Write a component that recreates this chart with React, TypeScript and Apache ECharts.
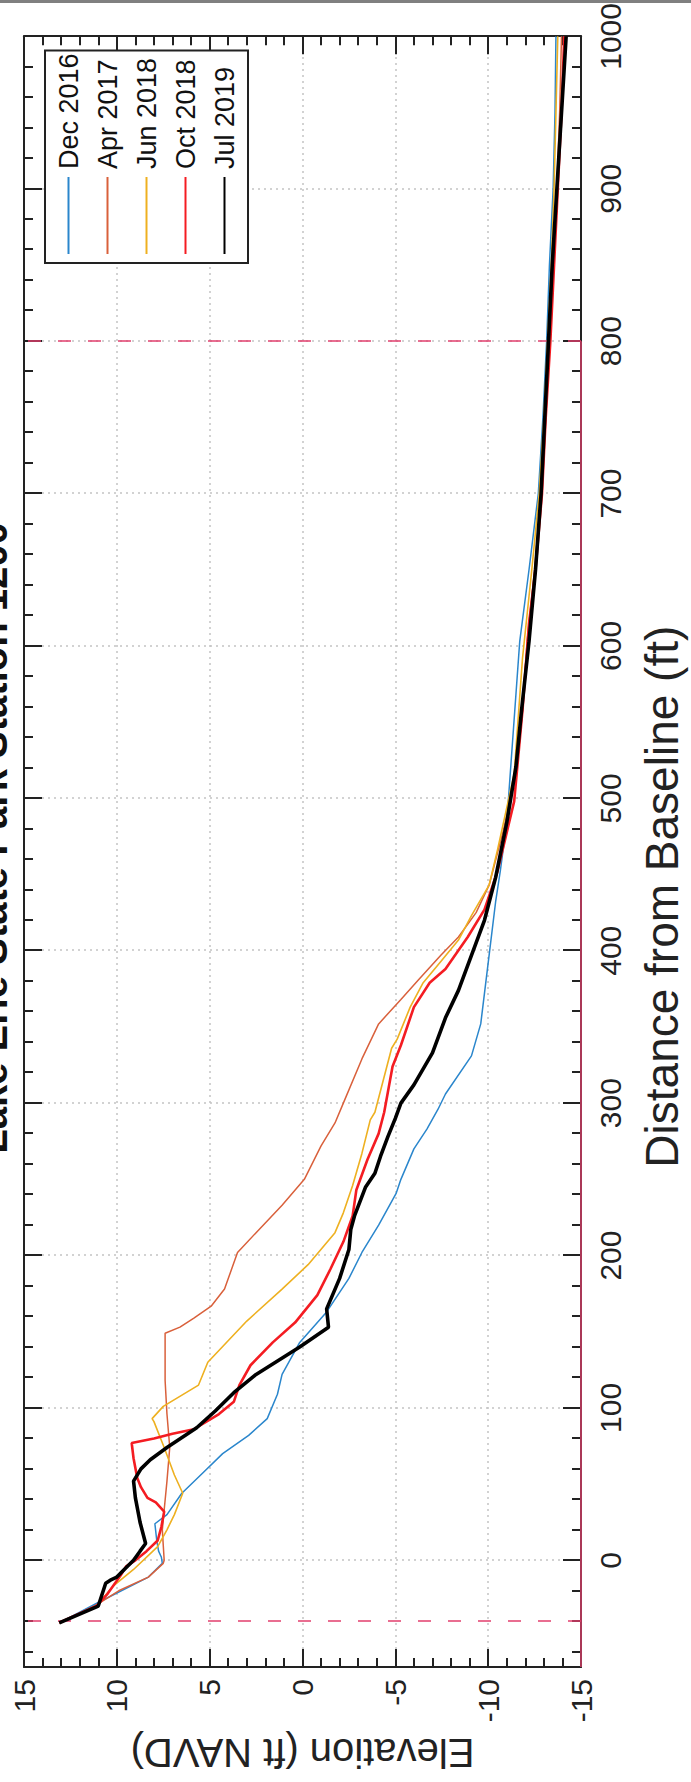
import React, { useEffect, useRef } from "react";
import * as echarts from "echarts";

// ---- Data (distance from baseline ft, elevation ft NAVD) ----
const SERIES_NAMES = ["Dec 2016", "Apr 2017", "Jun 2018", "Oct 2018", "Jul 2019"];

const DEC_2016: [number, number][] = [
  [-41, 13.1], [-27, 10.9], [-11, 8.3], [-2, 7.55], [2, 7.6], [6, 7.75], [13, 7.85], [24, 7.95],
  [30, 7.3], [44, 6.5], [57, 5.4], [70, 4.3], [82, 2.9], [93, 1.9], [109, 1.35], [122, 1.1],
  [143, 0.15], [163, -1.3], [185, -2.5], [202, -3.2], [220, -4.1], [241, -5.05], [250, -5.3],
  [270, -6.0], [283, -6.7], [296, -7.3], [306, -7.7], [331, -9.1], [352, -9.6], [397, -10.05],
  [432, -10.4], [452, -10.65], [484, -11.0], [569, -11.5], [603, -11.7], [650, -12.2],
  [700, -12.7], [750, -12.95], [800, -13.15], [850, -13.3], [900, -13.5], [950, -13.6], [1000, -13.65],
];

const APR_2017: [number, number][] = [
  [-41, 13.1], [-30, 11.2], [-20, 9.9], [-11, 8.3], [-2, 7.5], [0, 7.45], [10, 7.5], [20, 7.55],
  [33, 7.45], [52, 7.3], [74, 7.15], [96, 7.3], [118, 7.4], [149, 7.4], [153, 6.6], [159, 5.85],
  [167, 4.9], [178, 4.2], [202, 3.5], [215, 2.5], [233, 1.1], [250, -0.1], [272, -1.0],
  [287, -1.75], [300, -2.2], [329, -3.2], [352, -4.1], [368, -5.3], [381, -6.25], [397, -7.45],
  [409, -8.4], [425, -9.35], [443, -10.05], [478, -10.8], [516, -11.5], [558, -11.85],
  [603, -12.1], [650, -12.5], [700, -12.85], [750, -13.1], [800, -13.3], [850, -13.5],
  [900, -13.7], [950, -13.85], [1000, -13.95],
];

const JUN_2018: [number, number][] = [
  [-41, 13.1], [-30, 11.1], [-17, 10.2], [-6, 9.1], [9, 7.8], [20, 7.3], [30, 6.9], [44, 6.45],
  [56, 6.9], [74, 7.45], [91, 8.0], [93, 8.1], [101, 7.5], [115, 5.6], [130, 5.1], [157, 3.0],
  [178, 1.1], [194, -0.3], [215, -1.75], [228, -2.2], [246, -2.7], [267, -3.2], [289, -3.65],
  [294, -3.9], [336, -4.8], [342, -5.1], [363, -5.8], [379, -6.5], [393, -7.45], [407, -8.4],
  [423, -9.1], [443, -10.05], [466, -10.5], [516, -11.4], [592, -11.85], [650, -12.35],
  [700, -12.75], [750, -13.0], [800, -13.2], [850, -13.4], [900, -13.55], [950, -13.65], [1000, -13.75],
];

const OCT_2018: [number, number][] = [
  [-41, 13.1], [-30, 11.1], [-22, 10.5], [-10, 9.8], [-4, 9.5], [0, 9.0], [6, 8.4], [13, 7.8],
  [22, 7.6], [32, 7.45], [38, 7.9], [41, 8.35], [48, 8.7], [54, 8.9], [67, 9.1], [77, 9.2],
  [80, 8.0], [83, 7.0], [86, 5.85], [96, 4.5], [104, 3.7], [115, 3.4], [128, 2.8], [143, 1.6],
  [156, 0.4], [174, -0.8], [191, -1.5], [209, -2.2], [226, -2.7], [243, -2.9], [263, -3.5],
  [280, -4.1], [294, -4.4], [324, -4.85], [338, -5.3], [363, -6.0], [379, -6.85], [388, -7.7],
  [409, -8.9], [427, -9.8], [452, -10.5], [498, -11.4], [558, -11.85], [615, -12.2],
  [650, -12.55], [700, -12.9], [750, -13.1], [800, -13.35], [850, -13.55], [900, -13.75],
  [950, -13.95], [1000, -14.1],
];

const JUL_2019: [number, number][] = [
  [-41, 13.1], [-30, 11.0], [-15, 10.6], [-13, 10.35], [-11, 10.0], [-6, 9.6], [0, 9.1],
  [6, 8.75], [11, 8.45], [25, 8.75], [41, 9.0], [52, 9.1], [60, 8.7], [66, 8.2], [74, 7.3],
  [87, 5.7], [98, 4.7], [110, 3.7], [122, 2.5], [140, 0.15], [153, -1.4], [165, -1.3],
  [185, -2.0], [204, -2.5], [217, -2.6], [226, -2.8], [245, -3.4], [254, -3.9], [265, -4.2],
  [278, -4.6], [290, -5.0], [300, -5.3], [312, -6.0], [333, -7.0], [356, -7.7], [374, -8.4],
  [397, -9.1], [420, -9.8], [448, -10.4], [484, -11.0], [521, -11.5], [558, -11.8], [603, -12.2],
  [650, -12.55], [700, -12.85], [750, -13.05], [800, -13.25], [850, -13.45], [900, -13.7],
  [950, -13.95], [1000, -14.2],
];

const REF_DISTANCES = [-40, 800];
const CLOSURE_LINE: [number, number][] = [[-70, -15], [800, -15]];
const DIST_RANGE = [-70, 1000];
const ELEV_RANGE = [-15, 15];

const TITLE = "Lake Erie State Park Station 1200";
const X_NAME = "Distance from Baseline (ft)";
const Y_NAME = "Elevation (ft NAVD)";

const COLORS = ["#2a86cc", "#d9603b", "#eeb020", "#f41c22", "#000000"];
const WIDTHS = [1.5, 1.5, 1.6, 2.6, 3.6];

const REG = "'Liberation Sans', Arial, sans-serif";

const W = 1782;
const H = 691;

export default function App() {
  const ref = useRef<HTMLDivElement>(null);

  useEffect(() => {
    if (!ref.current) return;
    const chart = echarts.init(ref.current, null, { renderer: "svg", width: W, height: H });
    const axisCol = "#222";
    const tickBase = {
      show: true,
      inside: true,
      length: 18,
      lineStyle: { color: axisCol, width: 2 },
    };
    const minorBase = { show: true, splitNumber: 5, length: 9, lineStyle: { color: axisCol, width: 2 } };
    const grid = { show: true, lineStyle: { color: "#c4c4c4", width: 1.5, type: [2, 4] } };
    const datasets = [DEC_2016, APR_2017, JUN_2018, OCT_2018, JUL_2019];

    const series: any[] = datasets.map((d, i) => ({
      name: SERIES_NAMES[i],
      type: "line",
      data: d,
      symbol: "none",
      animation: false,
      lineStyle: { color: COLORS[i], width: WIDTHS[i] },
      itemStyle: { color: COLORS[i] },
      z: 3 + i,
    }));
    series.push({
      name: "closure",
      type: "line",
      data: CLOSURE_LINE,
      symbol: "none",
      clip: false,
      silent: true,
      lineStyle: { color: "#d8406a", width: 1.5 },
      z: 2,
      markLine: {
        silent: true,
        symbol: ["none", "none"],
        label: { show: false },
        lineStyle: { color: "#e23f6e", type: [13, 17], width: 1.6 },
        data: REF_DISTANCES.map((v) => ({ xAxis: v })),
      },
    });

    const plainLabel = (v: number) => String(v);

    chart.setOption({
      animation: false,
      backgroundColor: "#ffffff",
      grid: { left: 115, right: 27, top: 24, bottom: 110, containLabel: false },
      xAxis: [
        {
          type: "value",
          min: DIST_RANGE[0],
          max: DIST_RANGE[1],
          splitNumber: 10,
          minInterval: 100,
          maxInterval: 100,
          position: "bottom",
          axisLine: { show: true, onZero: false, lineStyle: { color: axisCol, width: 2 } },
          axisTick: tickBase,
          minorTick: minorBase,
          axisLabel: {
            show: true,
            margin: 14,
            fontSize: 30,
            color: "#222",
            fontFamily: REG,
            showMinLabel: false,
            formatter: plainLabel,
          },
          splitLine: grid,
          name: X_NAME,
          nameLocation: "middle",
          nameGap: 58,
          nameTextStyle: { fontSize: 46, color: "#222", fontFamily: REG, padding: [0, 90, 0, 0] },
        },
        {
          type: "value",
          min: DIST_RANGE[0],
          max: DIST_RANGE[1],
          splitNumber: 10,
          minInterval: 100,
          maxInterval: 100,
          position: "top",
          axisLine: { show: true, onZero: false, lineStyle: { color: axisCol, width: 2 } },
          axisTick: tickBase,
          minorTick: minorBase,
          axisLabel: { show: false },
          splitLine: { show: false },
        },
      ],
      yAxis: [
        {
          type: "value",
          min: ELEV_RANGE[0],
          max: ELEV_RANGE[1],
          interval: 5,
          position: "left",
          axisLine: { show: true, onZero: false, lineStyle: { color: axisCol, width: 2 } },
          axisTick: tickBase,
          minorTick: minorBase,
          axisLabel: { show: true, margin: 12, fontSize: 30, color: "#222", fontFamily: REG, formatter: plainLabel },
          splitLine: grid,
          name: Y_NAME,
          nameLocation: "middle",
          nameGap: 56,
          nameTextStyle: { fontSize: 40, color: "#222", fontFamily: REG },
        },
        {
          type: "value",
          min: ELEV_RANGE[0],
          max: ELEV_RANGE[1],
          interval: 5,
          position: "right",
          axisLine: { show: true, onZero: false, lineStyle: { color: axisCol, width: 2 } },
          axisTick: tickBase,
          minorTick: minorBase,
          axisLabel: { show: false },
          splitLine: { show: false },
        },
      ],
      legend: {
        orient: "vertical",
        left: 1519,
        top: 45,
        itemWidth: 77,
        itemHeight: 30,
        itemGap: 12,
        padding: [10, 3, 10, 8],
        borderColor: "#222",
        borderWidth: 2,
        backgroundColor: "#fff",
        itemStyle: { opacity: 0, borderWidth: 0 },
        textStyle: { fontSize: 27, fontFamily: REG, color: "#111", padding: [0, 0, 0, 3] },
        data: SERIES_NAMES,
      },
      graphic: [
        {
          type: "text",
          x: 944,
          y: 13,
          style: {
            text: TITLE,
            fontSize: 40,
            fontWeight: "bold",
            fontFamily: REG,
            fill: "#111",
            textAlign: "center",
            textVerticalAlign: "bottom",
          },
        },
        {
          type: "rect",
          shape: { x: W - 3, y: 0, width: 3, height: H },
          style: { fill: "#808080" },
        },
      ],
      series,
    });
    return () => chart.dispose();
  }, []);

  return (
    <div
      style={{
        position: "fixed",
        left: 0,
        top: 0,
        width: 691,
        height: 1782,
        overflow: "hidden",
        background: "#fff",
      }}
    >
      <div
        ref={ref}
        style={{
          position: "absolute",
          left: 0,
          top: 0,
          width: W,
          height: H,
          transformOrigin: "0 0",
          transform: `translateY(${W}px) rotate(-90deg)`,
        }}
      />
    </div>
  );
}
